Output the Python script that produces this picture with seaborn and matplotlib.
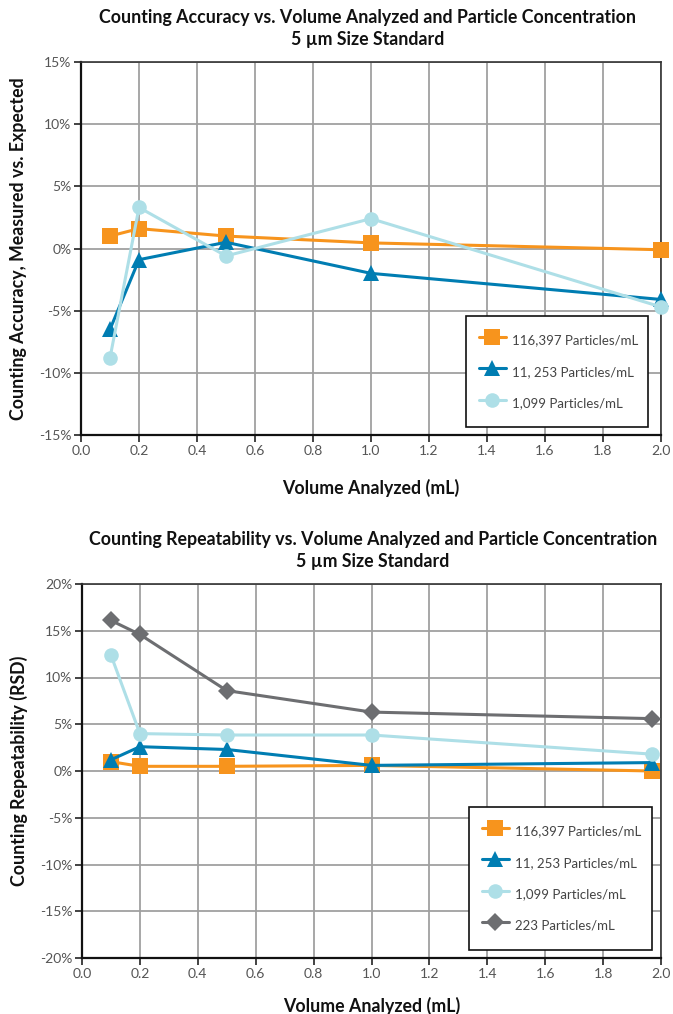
import matplotlib
matplotlib.use("Agg")
import matplotlib.pyplot as plt
import seaborn as sns
import pandas as pd

# ---------------- data ----------------
acc_volume = [0.1, 0.2, 0.5, 1.0, 2.0]
acc_116397 = [1.0, 1.6, 1.0, 0.45, -0.1]
acc_11253 = [-6.5, -0.9, 0.5, -2.0, -4.1]
acc_1099 = [-8.8, 3.3, -0.6, 2.4, -4.7]

rep_volume = [0.1, 0.2, 0.5, 1.0, 1.97]
rep_116397 = [1.0, 0.5, 0.5, 0.6, 0.0]
rep_11253 = [1.2, 2.6, 2.3, 0.6, 0.9]
rep_1099 = [12.4, 4.0, 3.85, 3.85, 1.8]
rep_223 = [16.1, 14.6, 8.6, 6.3, 5.6]

series_labels = ["116,397 Particles/mL", "11, 253 Particles/mL",
                 "1,099 Particles/mL", "223 Particles/mL"]
x_ticks = [0.0, 0.2, 0.4, 0.6, 0.8, 1.0, 1.2, 1.4, 1.6, 1.8, 2.0]
acc_yticks = [-15, -10, -5, 0, 5, 10, 15]
rep_yticks = [-20, -15, -10, -5, 0, 5, 10, 15, 20]

titles_top = ["Counting Accuracy vs. Volume Analyzed and Particle Concentration",
              "5 µm Size Standard"]
titles_bot = ["Counting Repeatability vs. Volume Analyzed and Particle Concentration",
              "5 µm Size Standard"]

# ---------------- style ----------------
sns.set_theme(style="white")
plt.rcParams["font.family"] = ["Lato", "DejaVu Sans"]

colors = ["#F7941D", "#007DB2", "#AEDFE7", "#6D6E71"]
markers = ["s", "^", "o", "D"]
msizes = [11, 12, 10.5, 9.5]

W, H = 673, 1014
fig = plt.figure(figsize=(W / 100, H / 100), dpi=100)

def px_axes(l, t, r, b):
    return fig.add_axes([l / W, 1 - b / H, (r - l) / W, (b - t) / H])

ax1 = px_axes(81, 62, 661, 435)
ax2 = px_axes(82, 584, 661, 958)

def draw(ax, xs, ys_list, nser):
    for i in range(nser):
        df = pd.DataFrame({"x": xs, "y": ys_list[i]})
        sns.lineplot(data=df, x="x", y="y", ax=ax, color=colors[i],
                     marker=markers[i], markersize=msizes[i],
                     markeredgewidth=0, linewidth=2.2, label=series_labels[i],
                     clip_on=False, zorder=3 + i)

draw(ax1, acc_volume, [acc_116397, acc_11253, acc_1099], 3)
draw(ax2, rep_volume, [rep_116397, rep_11253, rep_1099, rep_223], 4)

LBL = 12.8

def style(ax, yticks, ylabel, xlabel_y):
    ax.set_xlim(0, 2.0)
    ax.set_ylim(yticks[0], yticks[-1])
    ax.set_xticks(x_ticks)
    ax.set_xticklabels([f"{v:.1f}" for v in x_ticks])
    ax.set_yticks(yticks)
    ax.set_yticklabels([f"{v}%" for v in yticks])
    ax.grid(True, color="#A0A0A0", linewidth=1.3)
    ax.set_axisbelow(True)
    for s in ax.spines.values():
        s.set_visible(True)
        s.set_color("#333333")
        s.set_linewidth(1.2)
    ax.spines["left"].set_color("#111111")
    ax.spines["bottom"].set_color("#111111")
    ax.spines["left"].set_linewidth(1.6)
    ax.spines["bottom"].set_linewidth(1.6)
    ax.tick_params(axis="both", which="major", direction="out", length=5,
                   width=1.2, color="#222222", labelsize=10,
                   labelcolor="#555555", bottom=True, left=True, pad=2)
    ax.set_ylabel(ylabel, fontsize=LBL, fontweight="bold", color="#111111")
    ax.set_xlabel("Volume Analyzed (mL)", fontsize=LBL, fontweight="bold",
                  color="#111111")
    ax.yaxis.set_label_coords(-0.093, 0.5)
    ax.xaxis.set_label_coords(0.5, xlabel_y)

style(ax1, acc_yticks, "Counting Accuracy, Measured vs. Expected", -0.118)
style(ax2, rep_yticks, "Counting Repeatability (RSD)", -0.104)

def legend(ax, l, t, r, b):
    # bbox in figure pixels
    leg = ax.legend(loc="upper left",
                    bbox_to_anchor=(l / W, 1 - b / H, (r - l) / W, (b - t) / H),
                    bbox_transform=fig.transFigure, mode="expand",
                    frameon=True, fancybox=False, shadow=False,
                    fontsize=9.5, handlelength=2.0, handleheight=2.15,
                    handletextpad=0.45, labelspacing=0.75, borderpad=1.0,
                    borderaxespad=0)
    fr = leg.get_frame()
    fr.set_edgecolor("#111111")
    fr.set_linewidth(1.2)
    fr.set_facecolor("white")
    fr.set_alpha(1)
    for t_ in leg.get_texts():
        t_.set_color("#444444")
    leg.set_zorder(20)

legend(ax1, 466, 316, 648, 427)
legend(ax2, 469, 807, 652, 945)

def titles(lines, y1, y2, xc):
    fig.text(xc / W, 1 - y1 / H, lines[0], ha="center", va="center",
             fontsize=LBL, fontweight="bold", color="#111111")
    fig.text(xc / W, 1 - y2 / H, lines[1], ha="center", va="center",
             fontsize=LBL, fontweight="bold", color="#111111")

titles(titles_top, 17, 40, 368)
titles(titles_bot, 540, 562, 373)

fig.savefig("out.png", dpi=100)
